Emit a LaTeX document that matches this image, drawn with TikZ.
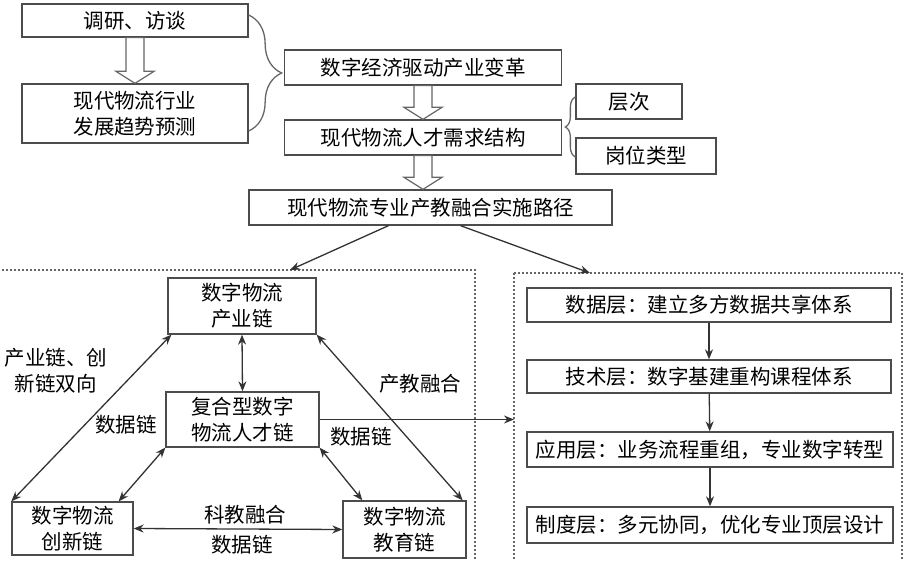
\documentclass[tikz,border=0pt]{standalone}
\usepackage{fontspec}
\usepackage{xcolor}
\usepackage{tikz}
\usetikzlibrary{arrows.meta,calc,decorations.pathreplacing}
\newfontfamily\cjk{Noto Sans CJK SC}

% hollow block arrow between two stacked boxes
\newcommand{\hollowarrow}[2]{%
    \draw[hollow] ($(#1.south)+(-9,0)$) -- ($(#1.south |- #2.north)+(-9,-12)$)
        -- ($(#1.south |- #2.north)+(-19,-12)$) -- (#1.south |- #2.north)
        -- ($(#1.south |- #2.north)+(19,-12)$) -- ($(#1.south |- #2.north)+(9,-12)$)
        -- ($(#1.south)+(9,0)$) -- cycle;
}

\begin{document}
\begin{tikzpicture}[x=1pt, y=-1pt,
        box/.style={draw=black!70, line width=1.3pt, inner sep=0pt, align=center,
            font=\cjk\fontsize{20.5pt}{26pt}\selectfont},
        lbl/.style={inner sep=0pt, align=center, font=\cjk\fontsize{20.5pt}{26pt}\selectfont},
        hollow/.style={draw=black!60, fill=white, line width=1.2pt},
        curly/.style={draw=black!60, line width=1.3pt, decorate},
        dotbox/.style={draw=black!60, line width=1.5pt, dash pattern=on 2pt off 2pt},
        link/.style={draw=black!80, line width=1.3pt},
        >={Stealth[length=10pt,width=8pt]}]
        \useasboundingbox (0,0) rectangle (906,561);
        \clip (0,0) rectangle (906,561);

        % upper part
        \node[box, minimum width=226pt, minimum height=33pt] (survey) at (135,20.5) {调研、访谈};
        \node[box, minimum width=226pt, minimum height=59pt] (trend) at (135,113.5) {现代物流行业\\发展趋势预测};
        \node[box, minimum width=277pt, minimum height=35pt] (drive) at (423,67.5) {数字经济驱动产业变革};
        \node[box, minimum width=277pt, minimum height=35pt] (demand) at (423,137.5) {现代物流人才需求结构};
        \node[box, minimum width=106pt, minimum height=35pt] (levels) at (629,101.5) {层次};
        \node[box, minimum width=140pt, minimum height=36pt] (post) at (646,156) {岗位类型};
        \node[box, minimum width=363pt, minimum height=35pt] (path) at (430.5,207.5) {现代物流专业产教融合实施路径};

        \hollowarrow{survey}{trend}
        \hollowarrow{drive}{demand}
        \hollowarrow{demand}{path}

        \draw[curly, decoration={brace, amplitude=33pt}] ([yshift=5.5pt]survey.east) -- ([yshift=-17.5pt]trend.east);
        \draw[curly, decoration={brace, amplitude=10pt}] ([yshift=-1pt]post.west) -- ([yshift=4.5pt]levels.west);

        % dotted frames
        \draw[dotbox] (-10,270) rectangle (475,580);
        \draw[dotbox] (514,273) rectangle (902,580);
        \coordinate (lt) at (290,270);
        \coordinate (rt) at (590,273);
        \draw[link, ->] ($(path.south)+(-42,0)$) -- (lt);
        \draw[link, ->] ($(path.south)+(30,0)$) -- (rt);

        % left frame: chains
        \node[box, minimum width=148pt, minimum height=56pt] (industry) at (242,306) {数字物流\\产业链};
        \node[box, minimum width=153pt, minimum height=55pt] (talent) at (242.5,419.5) {复合型数字\\物流人才链};
        \node[box, minimum width=121pt, minimum height=53pt] (innov) at (72.5,528.5) {数字物流\\创新链};
        \node[box, minimum width=123pt, minimum height=57pt] (edu) at (404.5,529.5) {数字物流\\教育链};

        \draw[link, <->] (industry.south) -- (talent.north);
        \draw[link, <->] ([xshift=4pt]industry.south west) -- (innov.north west);
        \draw[link, <->] (industry.south east) -- ([xshift=-4pt]edu.north east);
        \draw[link, <->] (talent.south west) -- ([xshift=-15pt]innov.north east);
        \draw[link, <->] (talent.south east) -- ([xshift=20pt]edu.north west);
        \draw[link, <->] (innov.east) -- (edu.west);
        \coordinate (rin) at (514,419.5);
        \draw[link, ->] (talent.east) -- (rin);

        \node[lbl] (bothway) at (56,371) {产业链、创\\新链双向};
        \node[lbl] (dl1) at (126,425) {数据链};
        \node[lbl] (cjrh) at (420,384) {产教融合};
        \node[lbl] (dl2) at (361,437) {数据链};
        \node[lbl] (kjrh) at (245,515) {科教融合};
        \node[lbl] (dl3) at (242,545) {数据链};

        % right frame: layers
        \node[box, minimum width=364pt, minimum height=34pt] (l1) at (709,305) {数据层：建立多方数据共享体系};
        \node[box, minimum width=364pt, minimum height=33pt] (l2) at (709,376.5) {技术层：数字基建重构课程体系};
        \node[box, minimum width=366pt, minimum height=35pt] (l3) at (710,449.5) {应用层：业务流程重组，专业数字转型};
        \node[box, minimum width=366pt, minimum height=36pt] (l4) at (710,525) {制度层：多元协同，优化专业顶层设计};
        \foreach \a/\b in {l1/l2,l2/l3,l3/l4}
            \draw[link, ->] (\a) -- (\b);
    \end{tikzpicture}
\end{document}
